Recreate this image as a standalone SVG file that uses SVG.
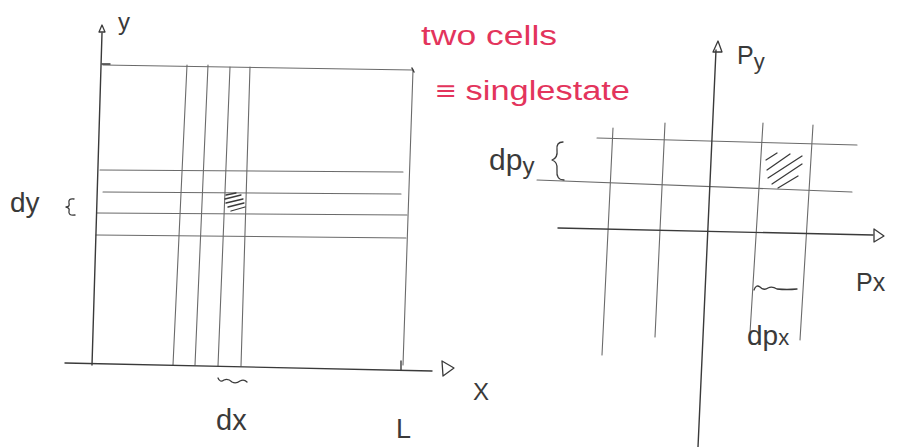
<svg xmlns="http://www.w3.org/2000/svg" width="898" height="447" viewBox="0 0 898 447">
<style>
.ax{stroke:#3a3a3a;stroke-width:1.4;fill:none;stroke-linecap:round}
.gr{stroke:#6a6a6a;stroke-width:1.1;fill:none;stroke-linecap:round}
.hd{stroke:#3a3a3a;stroke-width:1.3;fill:none;stroke-linecap:round;stroke-linejoin:round}
.lb{font-family:"Liberation Sans","DejaVu Sans",sans-serif;fill:#3a3a3a}
.rd{font-family:"Liberation Sans","DejaVu Sans",sans-serif;fill:#e3345c}
</style>
<rect width="898" height="447" fill="#fff"/>
<g id="left-diagram">
<g id="left-grid">
<path class="gr" d="M103 65 L413 70"/>
<path class="gr" d="M413 70 L403 365"/>
<path class="gr" d="M187 65 L173 365"/>
<path class="gr" d="M208 65 L195 365"/>
<path class="gr" d="M230 67 L218 366"/>
<path class="gr" d="M250 67 L241 366"/>
<path class="gr" d="M100 170 L403 172"/>
<path class="gr" d="M103 192 L401 194"/>
<path class="gr" d="M97 213 L407 215"/>
<path class="gr" d="M96 235 L406 238"/>
</g>
<g id="left-axes">
<path class="ax" d="M102 33 L92 365"/>
<path class="hd" d="M99 32 L102 25 L105 32 Z"/>
<path class="ax" d="M102 64 L110 64" stroke-width="2"/>
<path class="ax" d="M65 363 L432 371"/>
<path class="hd" d="M442 361 L454 368 L443 376 Z" stroke-width="2"/>
<path class="ax" d="M401 361 L401 370" stroke-width="3"/>
<path class="ax" d="M412 68 L414 72" stroke-width="2"/>
</g>
<g id="left-cell">
<path class="hd" stroke-width="2.2" stroke="#2a2a2a" d="M226 195 L236 193 M225 199 L241 195 M226 203 L243 199 M228 207 L244 203 M231 211 L245 207"/>
</g>
<g id="left-labels">
<text class="lb" x="118" y="30" font-size="24">y</text>
<text class="lb" x="10" y="212" font-size="28">dy</text>
<path class="hd" d="M74 199 Q68 198 69 203 Q70 207 66 207 Q70 208 69 211 Q68 216 75 215"/>
<path class="hd" d="M218 378 Q220 383 224 380 Q228 378 232 382 Q236 384 240 381 Q244 379 247 382"/>
<text class="lb" x="216" y="430" font-size="29">dx</text>
<text class="lb" x="396" y="438" font-size="27">L</text>
<text class="lb" x="473" y="400" font-size="24">X</text>
</g>
</g>
<g id="note">
<text class="rd" x="421" y="45" font-size="27" textLength="136" lengthAdjust="spacingAndGlyphs">two cells</text>
<text class="rd" x="436" y="100" font-size="27" textLength="194" lengthAdjust="spacingAndGlyphs">≡ singlestate</text>
</g>
<g id="right-diagram">
<g id="right-grid">
<path class="gr" d="M597 138 L857 145"/>
<path class="gr" d="M537 180 L852 192"/>
<path class="gr" d="M613 128 L602 355"/>
<path class="gr" d="M665 123 L655 337"/>
<path class="gr" d="M763 123 L750 333"/>
<path class="gr" d="M813 125 L800 340"/>
</g>
<g id="right-axes">
<path class="ax" d="M716 50 L698 447"/>
<path class="hd" d="M713 52 L718 41 L722 52 Z"/>
<path class="ax" d="M558 228 L873 235"/>
<path class="hd" d="M874 229 L884 236 L874 242 Z"/>
</g>
<g id="right-cell">
<path class="hd" d="M766 160 L777 153 M767 170 L790 154 M768 178 L802 156 M772 184 L802 164 M778 188 L798 176"/>
</g>
<g id="right-labels">
<text class="lb" x="737" y="64" font-size="25">P<tspan dy="5" font-size="22">y</tspan></text>
<text class="lb" x="489" y="170" font-size="30">dp<tspan dy="4" font-size="24">y</tspan></text>
<path class="hd" d="M563 142 Q556 142 557 150 Q558 158 552 160 Q558 162 557 170 Q556 180 564 180"/>
<text class="lb" x="856" y="291" font-size="25">Px</text>
<path class="hd" d="M754 290 Q756 284 760 287 Q764 291 768 288 Q772 286 777 289 Q787 290 797 289"/>
<text class="lb" x="747" y="345" font-size="28">dp<tspan font-size="22">x</tspan></text>
</g>
</g>
</svg>
